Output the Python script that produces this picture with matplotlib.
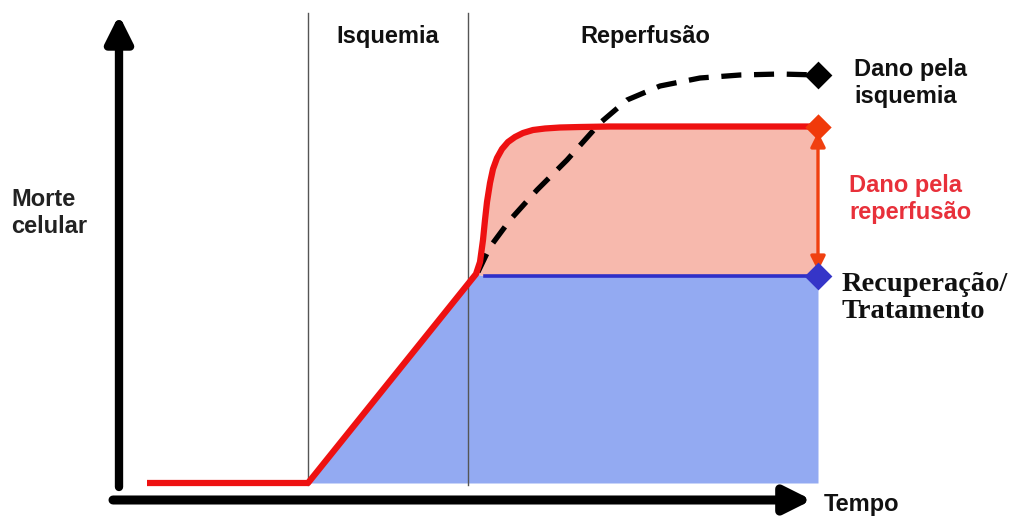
import matplotlib
matplotlib.use("Agg")
import matplotlib.pyplot as plt
import numpy as np

# ---- data (time axis units / cell-death level units, drawn in a canvas-like frame) ----
red_x = [147, 308, 476, 480, 483, 485, 487, 490, 493, 497, 502, 508, 515, 523, 533, 545, 560, 580, 610, 818]
red_y = [483, 483, 274, 262, 240, 220, 202, 183, 169, 158, 149, 142, 137, 133, 130, 128.5, 127.5, 127, 126.5, 126.5]

blue_x = [308, 476, 485, 818]
blue_y = [483, 274, 276, 276]

dash_x = [478, 490, 510, 537, 567, 600, 627, 660, 700, 740, 780, 818]
dash_y = [272, 247, 220, 190, 160, 123, 100, 86, 78, 75, 74, 75]

phase_x = [308, 468]
phase_labels = ["Isquemia", "Reperfusão"]
phase_label_x = [388, 645]

end_x = 818
end_levels = {"isq": 75, "rep": 127, "rec": 276}

fig = plt.figure(figsize=(10.22, 5.17), dpi=100)
ax = fig.add_axes([0, 0, 1, 1])
ax.set_xlim(0, 1022)
ax.set_ylim(517, 0)
ax.axis("off")

# fills
xs = np.linspace(blue_x[0], end_x, 800)
blue_top = np.interp(xs, blue_x, blue_y)
ax.fill_between(xs, 483, blue_top, color="#93aaf2", lw=0, zorder=1)
xr = np.linspace(478, end_x, 600)
red_top = np.interp(xr, red_x, red_y)
ax.fill_between(xr, np.interp(xr, blue_x, blue_y), red_top, color="#f7b9ad", lw=0, zorder=1)

# phase lines
for px in phase_x:
    ax.plot([px, px], [13, 485], color="#555555", lw=1.0, zorder=2)
for lx, lab in zip(phase_label_x, phase_labels):
    ax.text(lx, 36, lab, ha="center", va="center", fontsize=17, fontweight="bold",
            family="Liberation Sans", color="#111111")

# curves
ax.plot(blue_x[2:], blue_y[2:], color="#2f2fc8", lw=2.6, zorder=3)
ax.plot(dash_x, dash_y, color="black", lw=3.8, dashes=(3.8, 2.4), zorder=4)
ax.plot(red_x, red_y, color="#ee1111", lw=4.5, zorder=5, solid_capstyle="butt",
        solid_joinstyle="round")

# double arrow
ax.annotate("", xy=(end_x, end_levels["rep"] + 5), xytext=(end_x, end_levels["rec"] - 5),
            arrowprops=dict(arrowstyle="<|-|>", color="#f04010", lw=2.4,
                            mutation_scale=22, shrinkA=0, shrinkB=0), zorder=6)

# diamonds
ax.scatter([end_x], [end_levels["isq"]], marker="D", s=200, color="black", zorder=7, lw=0)
ax.scatter([end_x], [end_levels["rep"]], marker="D", s=180, color="#f03a0a", zorder=7, lw=0)
ax.scatter([end_x], [end_levels["rec"]], marker="D", s=200, color="#3535c8", zorder=7, lw=0)

# axes arrows
ax.annotate("", xy=(119, 15), xytext=(119, 487),
            arrowprops=dict(arrowstyle="-|>", color="black", lw=6, mutation_scale=40,
                            shrinkA=0, shrinkB=0))
ax.annotate("", xy=(812, 500), xytext=(113, 500),
            arrowprops=dict(arrowstyle="-|>", color="black", lw=6.5, mutation_scale=40,
                            shrinkA=0, shrinkB=0))

# texts
sans = dict(family="Liberation Sans", fontweight="bold", fontsize=17)
ax.text(824, 505, "Tempo", ha="left", va="center", color="#111111", **sans)
ax.text(11, 213, "Morte\ncelular", ha="left", va="center", color="#222222",
        linespacing=1.2, **sans)
ax.text(854, 83, "Dano pela\nisquemia", ha="left", va="center", color="#111111",
        linespacing=1.2, **sans)
ax.text(849, 199, "Dano pela\nreperfusão", ha="left", va="center", color="#e8303a",
        linespacing=1.2, **sans)
ax.text(842, 298, "Recuperação/\nTratamento", ha="left", va="center", color="#111111",
        family="Liberation Serif", fontweight="bold", fontsize=20.5, linespacing=1.15)

fig.savefig("out.png", dpi=100)
